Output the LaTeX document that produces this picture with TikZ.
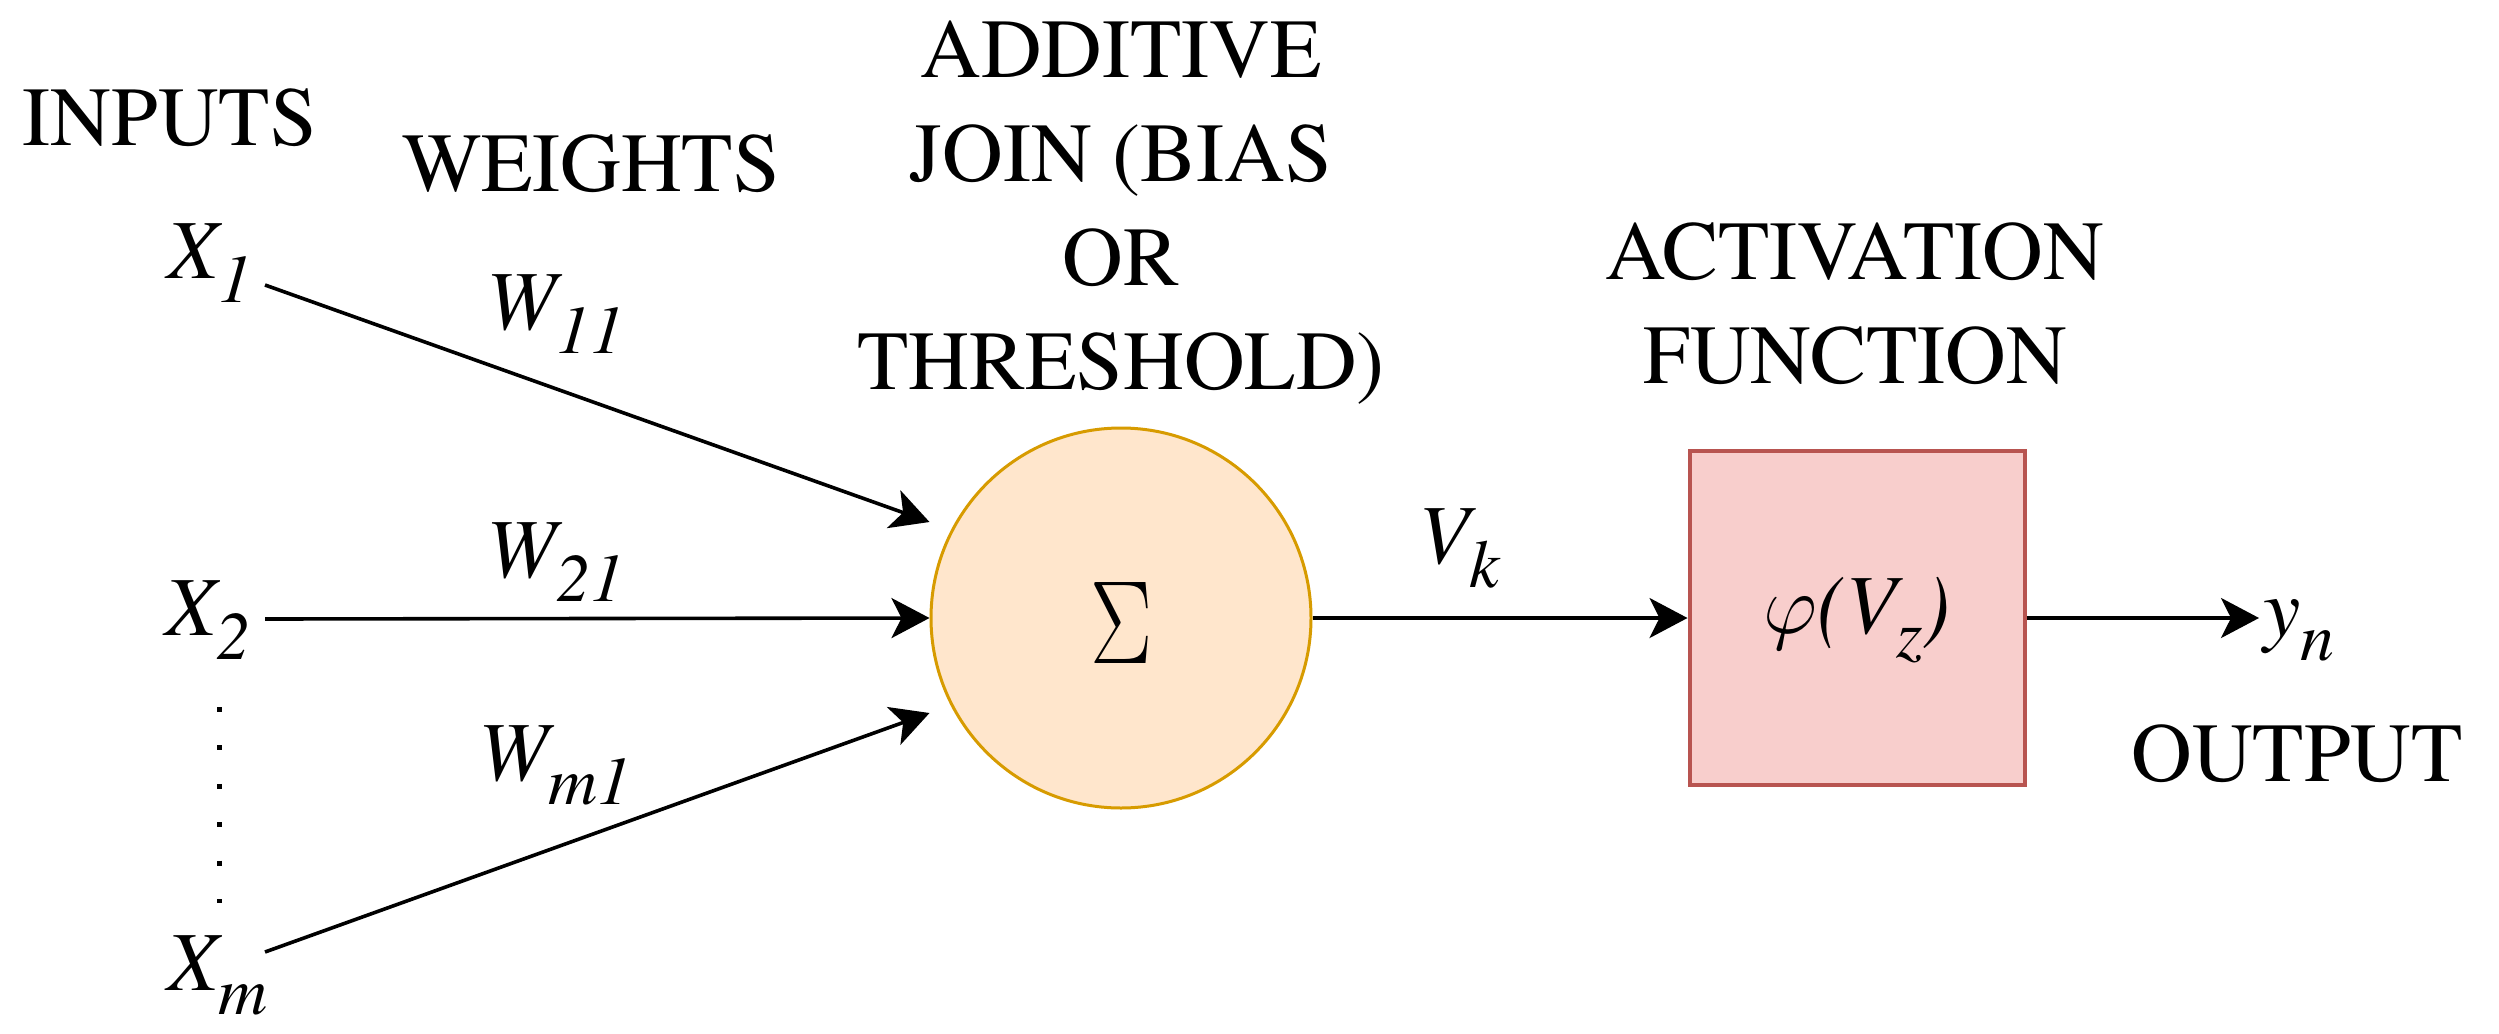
\RequirePackage{fix-cm}
\documentclass[tikz,border=0pt]{standalone}
\usepackage[no-math]{fontspec}
\IfFontExistsTF{texgyretermes-regular.otf}{%
  \setmainfont{texgyretermes}[Extension=.otf, UprightFont=*-regular, ItalicFont=*-italic, BoldFont=*-bold, BoldItalicFont=*-bolditalic]}{%
  \setmainfont{Liberation Serif}}
\usetikzlibrary{arrows.meta,calc}
\definecolor{sumfill}{HTML}{FFE6CC}
\definecolor{sumline}{HTML}{D79B00}
\definecolor{actfill}{HTML}{F8CECC}
\definecolor{actline}{HTML}{B85450}
\newcommand{\lowsub}[1]{\raisebox{-24pt}{\fontsize{68}{68}\selectfont #1}}
\tikzset{
  txt/.style={inner sep=0pt, font=\fontsize{84}{104}\selectfont},
  lbl/.style={txt, anchor=base west, font=\fontsize{84}{104}\selectfont\itshape},
  head/.style={txt, align=center, anchor=north},
  arr/.style={-{Stealth[length=38pt,width=40pt,inset=10pt]}, line width=3.6pt, black},
  sumnode/.style={circle, draw=sumline, fill=sumfill, line width=3pt, minimum size=380pt, inner sep=0pt},
  actnode/.style={rectangle, draw=actline, fill=actfill, line width=4pt, minimum width=335pt, minimum height=334pt, inner sep=0pt}
}
\begin{document}
\begin{tikzpicture}[x=1pt,y=-1pt]
\useasboundingbox[fill=white] (0,0) rectangle (2499,1033);

% headings
\node[txt, anchor=base] (inputs) at (170,145) {INPUTS};
\node[txt, anchor=base] (weights) at (591,191) {WEIGHTS};
\node[head] (additive) at (1121,21) {ADDITIVE\\JOIN (BIAS\\OR\\THRESHOLD)};
\node[head] (activation) at (1855,223) {ACTIVATION\\FUNCTION};
\node[txt, anchor=base] (output) at (2297,781) {OUTPUT};

% inputs
\node[lbl] (x1) at (167,278) {X\lowsub{1}};
\node[lbl] (x2) at (165,635) {X\lowsub{2}};
\node[lbl] (xm) at (167,990) {X\lowsub{m}};

% weights
\node[lbl] (w11) at (486,329) {W\lowsub{11}};
\node[lbl] (w21) at (486,577) {W\lowsub{21}};
\node[lbl] (wm1) at (478,780) {W\lowsub{m1}};

% summation and activation
\node[sumnode, text height=91pt, text depth=0pt, font=\fontsize{84}{84}\selectfont] (sum) at (1121,618) {\resizebox{62pt}{81pt}{$\Sigma$}};
\node[actnode, text height=60pt, text depth=30pt, font=\fontsize{84}{104}\selectfont\itshape] (act) at (1857,618) {$\varphi$(V\lowsub{z})};
\node[lbl] (vk) at (1418,563) {V\lowsub{k}};
\node[lbl] (yn) at (2263,636) {y\lowsub{n}};

% connector end points
\coordinate (x1out) at (265,285);
\coordinate (x2out) at (265,619);
\coordinate (xmout) at (265,952);
\coordinate (dtop) at (219,707);
\coordinate (dbot) at (219,903);

% connectors
\draw[arr] (x1out) -- ([yshift=96pt]sum.west);
\draw[arr] (x2out) -- (sum.west);
\draw[arr] (xmout) -- ([yshift=-95pt]sum.west);
\draw[line width=5pt, dash pattern=on 5pt off 33.4pt] (dtop) -- (dbot);
\draw[arr] (sum.east) -- (act.west);
\draw[arr] (act.east) -- ([xshift=-4pt]yn.west |- act.east);
\end{tikzpicture}
\end{document}
